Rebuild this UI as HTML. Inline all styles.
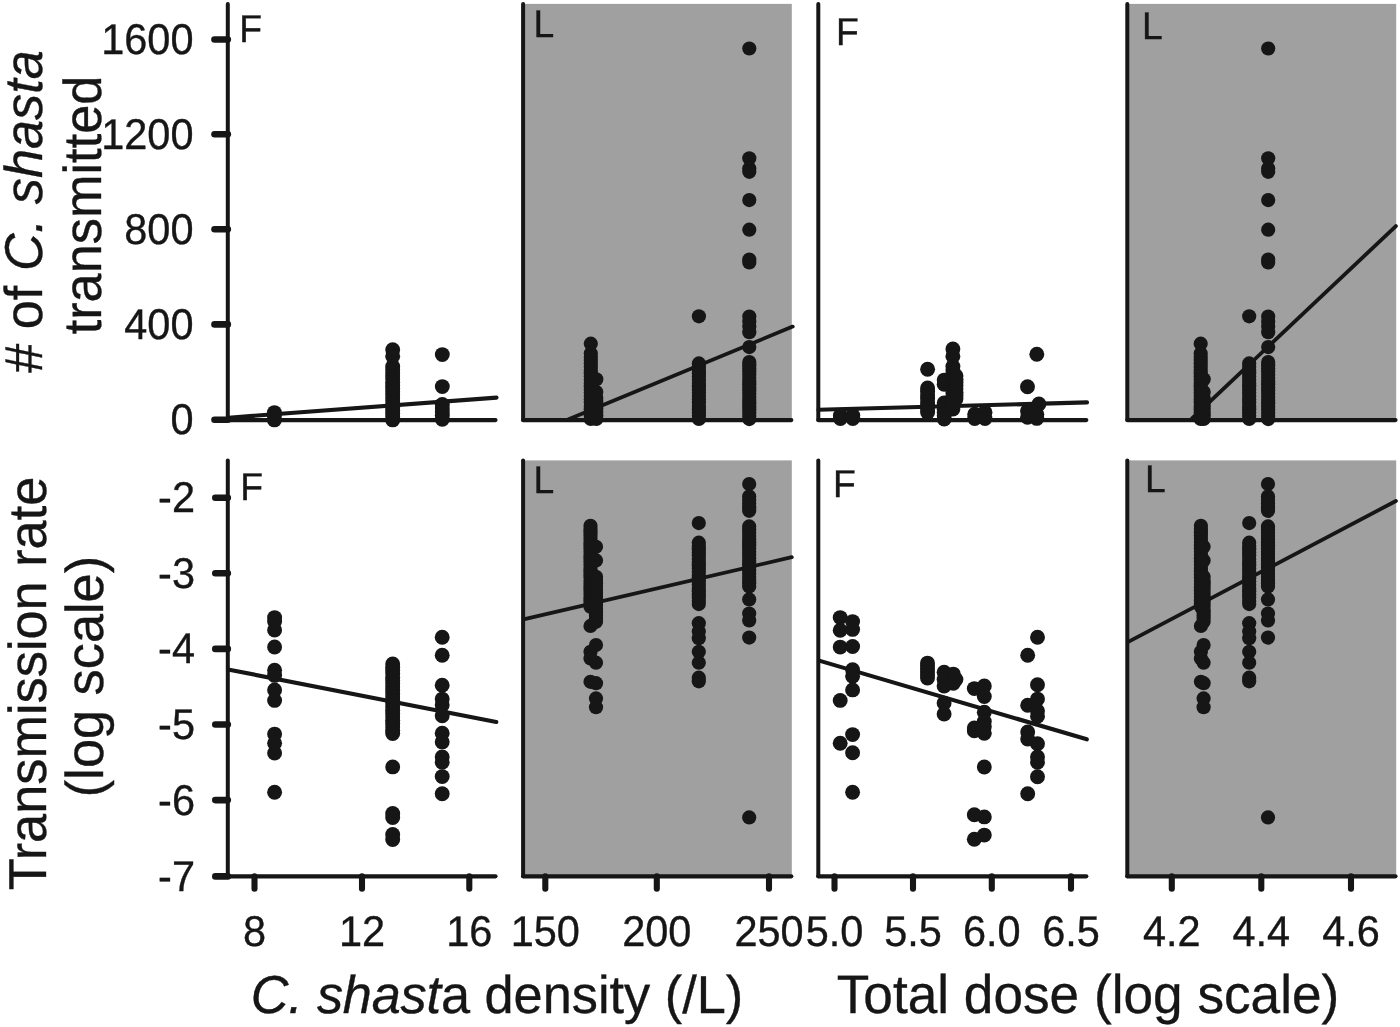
<!DOCTYPE html>
<html><head><meta charset="utf-8"><title>Figure</title>
<style>html,body{margin:0;padding:0;background:#fff;}body{width:1400px;height:1027px;overflow:hidden;}svg{display:block;}text{font-family:"Liberation Sans",sans-serif;fill:#161616;stroke:#161616;stroke-width:0.35px;text-rendering:geometricPrecision;}</style>
</head><body>
<svg width="1400" height="1027" viewBox="0 0 1400 1027">
<rect x="0" y="0" width="1400" height="1027" fill="#ffffff"/>
<rect x="523.1" y="3.9" width="268.7" height="416.2" fill="#a0a0a0"/>
<rect x="523.1" y="460.4" width="268.7" height="415.9" fill="#a0a0a0"/>
<rect x="1127.3" y="3.9" width="268.9" height="416.2" fill="#a0a0a0"/>
<rect x="1127.3" y="460.4" width="268.9" height="415.9" fill="#a0a0a0"/>
<g stroke="#161616" stroke-linecap="round" fill="none">
<line x1="228.6" y1="417.7" x2="496.5" y2="397.6" stroke-width="4.1"/>
<line x1="568.0" y1="419.5" x2="792.7" y2="326.6" stroke-width="3.8"/>
<line x1="818.5" y1="409.7" x2="1087.0" y2="402.4" stroke-width="4.1"/>
<line x1="1192.0" y1="418.5" x2="1395.9" y2="226.1" stroke-width="3.8"/>
<line x1="229.2" y1="669.7" x2="496.3" y2="722.0" stroke-width="4.1"/>
<line x1="524.5" y1="619.1" x2="791.8" y2="557.2" stroke-width="3.8"/>
<line x1="820.0" y1="660.9" x2="1086.8" y2="739.3" stroke-width="4.1"/>
<line x1="1129.2" y1="641.4" x2="1395.9" y2="501.0" stroke-width="3.8"/>
</g>
<g fill="#161616">
<circle cx="274.4" cy="412.6" r="7.45"/>
<circle cx="274.4" cy="416.0" r="7.45"/>
<circle cx="274.4" cy="419.9" r="7.45"/>
<circle cx="392.7" cy="349.8" r="7.45"/>
<circle cx="392.7" cy="356.3" r="7.45"/>
<circle cx="392.7" cy="366.6" r="7.45"/>
<circle cx="392.7" cy="369.7" r="7.45"/>
<circle cx="392.7" cy="372.9" r="7.45"/>
<circle cx="392.7" cy="376.0" r="7.45"/>
<circle cx="392.7" cy="379.1" r="7.45"/>
<circle cx="392.7" cy="382.3" r="7.45"/>
<circle cx="392.7" cy="385.4" r="7.45"/>
<circle cx="392.7" cy="388.5" r="7.45"/>
<circle cx="392.7" cy="391.7" r="7.45"/>
<circle cx="392.7" cy="394.8" r="7.45"/>
<circle cx="392.7" cy="398.0" r="7.45"/>
<circle cx="392.7" cy="401.1" r="7.45"/>
<circle cx="392.7" cy="404.2" r="7.45"/>
<circle cx="392.7" cy="407.4" r="7.45"/>
<circle cx="392.7" cy="410.5" r="7.45"/>
<circle cx="392.7" cy="413.6" r="7.45"/>
<circle cx="392.7" cy="416.8" r="7.45"/>
<circle cx="392.7" cy="419.9" r="7.45"/>
<circle cx="442.3" cy="354.6" r="7.45"/>
<circle cx="442.3" cy="386.6" r="7.45"/>
<circle cx="442.3" cy="404.4" r="7.45"/>
<circle cx="442.3" cy="408.1" r="7.45"/>
<circle cx="442.3" cy="411.8" r="7.45"/>
<circle cx="442.3" cy="415.5" r="7.45"/>
<circle cx="442.3" cy="419.2" r="7.45"/>
<circle cx="590.8" cy="343.7" r="7.10"/>
<circle cx="590.8" cy="353.6" r="7.10"/>
<circle cx="590.8" cy="356.9" r="7.10"/>
<circle cx="590.8" cy="360.1" r="7.10"/>
<circle cx="590.8" cy="363.4" r="7.10"/>
<circle cx="590.8" cy="366.7" r="7.10"/>
<circle cx="590.8" cy="370.0" r="7.10"/>
<circle cx="590.8" cy="373.2" r="7.10"/>
<circle cx="590.8" cy="376.5" r="7.10"/>
<circle cx="590.8" cy="379.8" r="7.10"/>
<circle cx="590.8" cy="383.0" r="7.10"/>
<circle cx="590.8" cy="386.3" r="7.10"/>
<circle cx="590.8" cy="389.6" r="7.10"/>
<circle cx="590.8" cy="392.8" r="7.10"/>
<circle cx="590.8" cy="396.1" r="7.10"/>
<circle cx="590.8" cy="399.4" r="7.10"/>
<circle cx="590.8" cy="402.6" r="7.10"/>
<circle cx="590.8" cy="405.9" r="7.10"/>
<circle cx="590.8" cy="409.2" r="7.10"/>
<circle cx="590.8" cy="412.5" r="7.10"/>
<circle cx="590.8" cy="415.7" r="7.10"/>
<circle cx="590.8" cy="419.0" r="7.10"/>
<circle cx="596.3" cy="379.3" r="7.10"/>
<circle cx="596.3" cy="392.0" r="7.10"/>
<circle cx="596.3" cy="398.0" r="7.10"/>
<circle cx="596.3" cy="401.5" r="7.10"/>
<circle cx="596.3" cy="405.0" r="7.10"/>
<circle cx="596.3" cy="408.5" r="7.10"/>
<circle cx="596.3" cy="412.0" r="7.10"/>
<circle cx="596.3" cy="415.5" r="7.10"/>
<circle cx="596.3" cy="419.0" r="7.10"/>
<circle cx="698.9" cy="316.3" r="7.10"/>
<circle cx="698.9" cy="363.4" r="7.10"/>
<circle cx="698.9" cy="366.7" r="7.10"/>
<circle cx="698.9" cy="369.9" r="7.10"/>
<circle cx="698.9" cy="373.2" r="7.10"/>
<circle cx="698.9" cy="376.5" r="7.10"/>
<circle cx="698.9" cy="379.8" r="7.10"/>
<circle cx="698.9" cy="383.0" r="7.10"/>
<circle cx="698.9" cy="386.3" r="7.10"/>
<circle cx="698.9" cy="389.6" r="7.10"/>
<circle cx="698.9" cy="392.8" r="7.10"/>
<circle cx="698.9" cy="396.1" r="7.10"/>
<circle cx="698.9" cy="399.4" r="7.10"/>
<circle cx="698.9" cy="402.6" r="7.10"/>
<circle cx="698.9" cy="405.9" r="7.10"/>
<circle cx="698.9" cy="409.2" r="7.10"/>
<circle cx="698.9" cy="412.5" r="7.10"/>
<circle cx="698.9" cy="415.7" r="7.10"/>
<circle cx="698.9" cy="419.0" r="7.10"/>
<circle cx="749.3" cy="48.5" r="7.10"/>
<circle cx="749.3" cy="158.3" r="7.10"/>
<circle cx="749.3" cy="168.6" r="7.10"/>
<circle cx="749.3" cy="171.8" r="7.10"/>
<circle cx="749.3" cy="200.1" r="7.10"/>
<circle cx="749.3" cy="229.7" r="7.10"/>
<circle cx="749.3" cy="259.6" r="7.10"/>
<circle cx="749.3" cy="262.5" r="7.10"/>
<circle cx="749.3" cy="316.6" r="7.10"/>
<circle cx="749.3" cy="321.5" r="7.10"/>
<circle cx="749.3" cy="326.5" r="7.10"/>
<circle cx="749.3" cy="332.2" r="7.10"/>
<circle cx="749.3" cy="347.1" r="7.10"/>
<circle cx="749.3" cy="362.1" r="7.10"/>
<circle cx="749.3" cy="365.3" r="7.10"/>
<circle cx="749.3" cy="368.4" r="7.10"/>
<circle cx="749.3" cy="371.6" r="7.10"/>
<circle cx="749.3" cy="374.8" r="7.10"/>
<circle cx="749.3" cy="377.9" r="7.10"/>
<circle cx="749.3" cy="381.1" r="7.10"/>
<circle cx="749.3" cy="384.3" r="7.10"/>
<circle cx="749.3" cy="387.4" r="7.10"/>
<circle cx="749.3" cy="390.6" r="7.10"/>
<circle cx="749.3" cy="393.8" r="7.10"/>
<circle cx="749.3" cy="396.9" r="7.10"/>
<circle cx="749.3" cy="400.1" r="7.10"/>
<circle cx="749.3" cy="403.3" r="7.10"/>
<circle cx="749.3" cy="406.4" r="7.10"/>
<circle cx="749.3" cy="409.6" r="7.10"/>
<circle cx="749.3" cy="412.8" r="7.10"/>
<circle cx="749.3" cy="415.9" r="7.10"/>
<circle cx="749.3" cy="419.1" r="7.10"/>
<circle cx="840.4" cy="415.5" r="7.45"/>
<circle cx="840.4" cy="418.5" r="7.45"/>
<circle cx="852.8" cy="415.5" r="7.45"/>
<circle cx="852.8" cy="418.5" r="7.45"/>
<circle cx="927.6" cy="369.3" r="7.45"/>
<circle cx="927.6" cy="387.9" r="7.45"/>
<circle cx="927.6" cy="391.4" r="7.45"/>
<circle cx="927.6" cy="394.9" r="7.45"/>
<circle cx="927.6" cy="398.4" r="7.45"/>
<circle cx="927.6" cy="402.0" r="7.45"/>
<circle cx="927.6" cy="405.5" r="7.45"/>
<circle cx="927.6" cy="409.0" r="7.45"/>
<circle cx="927.6" cy="412.5" r="7.45"/>
<circle cx="944.2" cy="380.1" r="7.45"/>
<circle cx="944.2" cy="384.2" r="7.45"/>
<circle cx="944.2" cy="402.9" r="7.45"/>
<circle cx="944.2" cy="406.1" r="7.45"/>
<circle cx="944.2" cy="409.3" r="7.45"/>
<circle cx="944.2" cy="412.6" r="7.45"/>
<circle cx="944.2" cy="415.8" r="7.45"/>
<circle cx="944.2" cy="419.0" r="7.45"/>
<circle cx="952.9" cy="349.0" r="7.45"/>
<circle cx="952.9" cy="356.2" r="7.45"/>
<circle cx="952.9" cy="366.6" r="7.45"/>
<circle cx="952.9" cy="370.0" r="7.45"/>
<circle cx="952.9" cy="373.3" r="7.45"/>
<circle cx="952.9" cy="376.5" r="7.45"/>
<circle cx="952.9" cy="379.8" r="7.45"/>
<circle cx="952.9" cy="383.0" r="7.45"/>
<circle cx="952.9" cy="386.3" r="7.45"/>
<circle cx="952.9" cy="389.6" r="7.45"/>
<circle cx="952.9" cy="392.8" r="7.45"/>
<circle cx="952.9" cy="396.1" r="7.45"/>
<circle cx="952.9" cy="399.3" r="7.45"/>
<circle cx="952.9" cy="402.6" r="7.45"/>
<circle cx="952.9" cy="405.8" r="7.45"/>
<circle cx="952.9" cy="409.1" r="7.45"/>
<circle cx="956.0" cy="375.9" r="7.45"/>
<circle cx="956.0" cy="379.2" r="7.45"/>
<circle cx="956.0" cy="382.4" r="7.45"/>
<circle cx="956.0" cy="385.7" r="7.45"/>
<circle cx="956.0" cy="388.9" r="7.45"/>
<circle cx="956.0" cy="392.2" r="7.45"/>
<circle cx="956.0" cy="395.4" r="7.45"/>
<circle cx="956.0" cy="398.7" r="7.45"/>
<circle cx="974.7" cy="414.2" r="7.45"/>
<circle cx="974.7" cy="418.5" r="7.45"/>
<circle cx="985.0" cy="412.2" r="7.45"/>
<circle cx="985.0" cy="418.5" r="7.45"/>
<circle cx="1027.5" cy="386.7" r="7.45"/>
<circle cx="1027.5" cy="411.1" r="7.45"/>
<circle cx="1027.5" cy="417.3" r="7.45"/>
<circle cx="1036.8" cy="354.2" r="7.45"/>
<circle cx="1036.8" cy="414.2" r="7.45"/>
<circle cx="1036.8" cy="418.4" r="7.45"/>
<circle cx="1038.9" cy="403.9" r="7.45"/>
<circle cx="1200.7" cy="343.7" r="7.10"/>
<circle cx="1200.7" cy="353.6" r="7.10"/>
<circle cx="1200.7" cy="356.9" r="7.10"/>
<circle cx="1200.7" cy="360.1" r="7.10"/>
<circle cx="1200.7" cy="363.4" r="7.10"/>
<circle cx="1200.7" cy="366.7" r="7.10"/>
<circle cx="1200.7" cy="370.0" r="7.10"/>
<circle cx="1200.7" cy="373.2" r="7.10"/>
<circle cx="1200.7" cy="376.5" r="7.10"/>
<circle cx="1200.7" cy="379.8" r="7.10"/>
<circle cx="1200.7" cy="383.0" r="7.10"/>
<circle cx="1200.7" cy="386.3" r="7.10"/>
<circle cx="1200.7" cy="389.6" r="7.10"/>
<circle cx="1200.7" cy="392.8" r="7.10"/>
<circle cx="1200.7" cy="396.1" r="7.10"/>
<circle cx="1200.7" cy="399.4" r="7.10"/>
<circle cx="1200.7" cy="402.6" r="7.10"/>
<circle cx="1200.7" cy="405.9" r="7.10"/>
<circle cx="1200.7" cy="409.2" r="7.10"/>
<circle cx="1200.7" cy="412.5" r="7.10"/>
<circle cx="1200.7" cy="415.7" r="7.10"/>
<circle cx="1200.7" cy="419.0" r="7.10"/>
<circle cx="1203.7" cy="379.3" r="7.10"/>
<circle cx="1203.7" cy="392.0" r="7.10"/>
<circle cx="1203.7" cy="398.0" r="7.10"/>
<circle cx="1203.7" cy="401.5" r="7.10"/>
<circle cx="1203.7" cy="405.0" r="7.10"/>
<circle cx="1203.7" cy="408.5" r="7.10"/>
<circle cx="1203.7" cy="412.0" r="7.10"/>
<circle cx="1203.7" cy="415.5" r="7.10"/>
<circle cx="1203.7" cy="419.0" r="7.10"/>
<circle cx="1249.2" cy="316.3" r="7.10"/>
<circle cx="1249.2" cy="363.4" r="7.10"/>
<circle cx="1249.2" cy="366.7" r="7.10"/>
<circle cx="1249.2" cy="369.9" r="7.10"/>
<circle cx="1249.2" cy="373.2" r="7.10"/>
<circle cx="1249.2" cy="376.5" r="7.10"/>
<circle cx="1249.2" cy="379.8" r="7.10"/>
<circle cx="1249.2" cy="383.0" r="7.10"/>
<circle cx="1249.2" cy="386.3" r="7.10"/>
<circle cx="1249.2" cy="389.6" r="7.10"/>
<circle cx="1249.2" cy="392.8" r="7.10"/>
<circle cx="1249.2" cy="396.1" r="7.10"/>
<circle cx="1249.2" cy="399.4" r="7.10"/>
<circle cx="1249.2" cy="402.6" r="7.10"/>
<circle cx="1249.2" cy="405.9" r="7.10"/>
<circle cx="1249.2" cy="409.2" r="7.10"/>
<circle cx="1249.2" cy="412.5" r="7.10"/>
<circle cx="1249.2" cy="415.7" r="7.10"/>
<circle cx="1249.2" cy="419.0" r="7.10"/>
<circle cx="1268.2" cy="48.5" r="7.10"/>
<circle cx="1268.2" cy="158.3" r="7.10"/>
<circle cx="1268.2" cy="168.6" r="7.10"/>
<circle cx="1268.2" cy="171.8" r="7.10"/>
<circle cx="1268.2" cy="200.1" r="7.10"/>
<circle cx="1268.2" cy="229.7" r="7.10"/>
<circle cx="1268.2" cy="259.6" r="7.10"/>
<circle cx="1268.2" cy="262.5" r="7.10"/>
<circle cx="1268.2" cy="316.6" r="7.10"/>
<circle cx="1268.2" cy="321.5" r="7.10"/>
<circle cx="1268.2" cy="326.5" r="7.10"/>
<circle cx="1268.2" cy="332.2" r="7.10"/>
<circle cx="1268.2" cy="347.1" r="7.10"/>
<circle cx="1268.2" cy="362.1" r="7.10"/>
<circle cx="1268.2" cy="365.3" r="7.10"/>
<circle cx="1268.2" cy="368.4" r="7.10"/>
<circle cx="1268.2" cy="371.6" r="7.10"/>
<circle cx="1268.2" cy="374.8" r="7.10"/>
<circle cx="1268.2" cy="377.9" r="7.10"/>
<circle cx="1268.2" cy="381.1" r="7.10"/>
<circle cx="1268.2" cy="384.3" r="7.10"/>
<circle cx="1268.2" cy="387.4" r="7.10"/>
<circle cx="1268.2" cy="390.6" r="7.10"/>
<circle cx="1268.2" cy="393.8" r="7.10"/>
<circle cx="1268.2" cy="396.9" r="7.10"/>
<circle cx="1268.2" cy="400.1" r="7.10"/>
<circle cx="1268.2" cy="403.3" r="7.10"/>
<circle cx="1268.2" cy="406.4" r="7.10"/>
<circle cx="1268.2" cy="409.6" r="7.10"/>
<circle cx="1268.2" cy="412.8" r="7.10"/>
<circle cx="1268.2" cy="415.9" r="7.10"/>
<circle cx="1268.2" cy="419.1" r="7.10"/>
<circle cx="274.6" cy="617.6" r="7.45"/>
<circle cx="274.6" cy="621.5" r="7.45"/>
<circle cx="274.6" cy="630.0" r="7.45"/>
<circle cx="274.6" cy="647.0" r="7.45"/>
<circle cx="274.6" cy="670.2" r="7.45"/>
<circle cx="274.6" cy="675.4" r="7.45"/>
<circle cx="274.6" cy="689.9" r="7.45"/>
<circle cx="274.6" cy="700.4" r="7.45"/>
<circle cx="274.6" cy="734.1" r="7.45"/>
<circle cx="274.6" cy="743.3" r="7.45"/>
<circle cx="274.6" cy="753.0" r="7.45"/>
<circle cx="274.6" cy="792.2" r="7.45"/>
<circle cx="392.7" cy="663.9" r="7.45"/>
<circle cx="392.7" cy="667.2" r="7.45"/>
<circle cx="392.7" cy="670.5" r="7.45"/>
<circle cx="392.7" cy="673.8" r="7.45"/>
<circle cx="392.7" cy="677.2" r="7.45"/>
<circle cx="392.7" cy="680.5" r="7.45"/>
<circle cx="392.7" cy="683.8" r="7.45"/>
<circle cx="392.7" cy="687.1" r="7.45"/>
<circle cx="392.7" cy="690.4" r="7.45"/>
<circle cx="392.7" cy="693.7" r="7.45"/>
<circle cx="392.7" cy="697.0" r="7.45"/>
<circle cx="392.7" cy="700.4" r="7.45"/>
<circle cx="392.7" cy="703.7" r="7.45"/>
<circle cx="392.7" cy="707.0" r="7.45"/>
<circle cx="392.7" cy="710.3" r="7.45"/>
<circle cx="392.7" cy="713.6" r="7.45"/>
<circle cx="392.7" cy="716.9" r="7.45"/>
<circle cx="392.7" cy="720.2" r="7.45"/>
<circle cx="392.7" cy="723.6" r="7.45"/>
<circle cx="392.7" cy="726.9" r="7.45"/>
<circle cx="392.7" cy="730.2" r="7.45"/>
<circle cx="392.7" cy="733.5" r="7.45"/>
<circle cx="392.7" cy="766.9" r="7.45"/>
<circle cx="392.7" cy="813.5" r="7.45"/>
<circle cx="392.7" cy="817.5" r="7.45"/>
<circle cx="392.7" cy="834.5" r="7.45"/>
<circle cx="392.7" cy="839.5" r="7.45"/>
<circle cx="442.2" cy="637.3" r="7.45"/>
<circle cx="442.2" cy="655.2" r="7.45"/>
<circle cx="442.2" cy="685.2" r="7.45"/>
<circle cx="442.2" cy="699.1" r="7.45"/>
<circle cx="442.2" cy="705.1" r="7.45"/>
<circle cx="442.2" cy="715.7" r="7.45"/>
<circle cx="442.2" cy="733.3" r="7.45"/>
<circle cx="442.2" cy="741.9" r="7.45"/>
<circle cx="442.2" cy="756.9" r="7.45"/>
<circle cx="442.2" cy="762.2" r="7.45"/>
<circle cx="442.2" cy="776.6" r="7.45"/>
<circle cx="442.2" cy="793.7" r="7.45"/>
<circle cx="590.5" cy="525.8" r="7.10"/>
<circle cx="590.5" cy="529.0" r="7.10"/>
<circle cx="590.5" cy="532.3" r="7.10"/>
<circle cx="590.5" cy="535.5" r="7.10"/>
<circle cx="590.5" cy="538.8" r="7.10"/>
<circle cx="590.5" cy="542.0" r="7.10"/>
<circle cx="590.5" cy="545.2" r="7.10"/>
<circle cx="590.5" cy="548.5" r="7.10"/>
<circle cx="590.5" cy="551.7" r="7.10"/>
<circle cx="590.5" cy="555.0" r="7.10"/>
<circle cx="590.5" cy="558.2" r="7.10"/>
<circle cx="590.5" cy="561.4" r="7.10"/>
<circle cx="590.5" cy="564.7" r="7.10"/>
<circle cx="590.5" cy="567.9" r="7.10"/>
<circle cx="590.5" cy="571.2" r="7.10"/>
<circle cx="590.5" cy="574.4" r="7.10"/>
<circle cx="590.5" cy="577.6" r="7.10"/>
<circle cx="590.5" cy="580.9" r="7.10"/>
<circle cx="590.5" cy="584.1" r="7.10"/>
<circle cx="590.5" cy="587.4" r="7.10"/>
<circle cx="590.5" cy="590.6" r="7.10"/>
<circle cx="590.5" cy="593.8" r="7.10"/>
<circle cx="590.5" cy="597.1" r="7.10"/>
<circle cx="590.5" cy="600.3" r="7.10"/>
<circle cx="590.5" cy="603.6" r="7.10"/>
<circle cx="590.5" cy="606.8" r="7.10"/>
<circle cx="590.5" cy="625.9" r="7.10"/>
<circle cx="590.5" cy="651.8" r="7.10"/>
<circle cx="590.5" cy="658.6" r="7.10"/>
<circle cx="590.5" cy="681.8" r="7.10"/>
<circle cx="596.0" cy="546.8" r="7.10"/>
<circle cx="596.0" cy="560.4" r="7.10"/>
<circle cx="596.0" cy="576.8" r="7.10"/>
<circle cx="596.0" cy="580.0" r="7.10"/>
<circle cx="596.0" cy="583.2" r="7.10"/>
<circle cx="596.0" cy="586.4" r="7.10"/>
<circle cx="596.0" cy="589.7" r="7.10"/>
<circle cx="596.0" cy="592.9" r="7.10"/>
<circle cx="596.0" cy="596.1" r="7.10"/>
<circle cx="596.0" cy="599.3" r="7.10"/>
<circle cx="596.0" cy="602.5" r="7.10"/>
<circle cx="596.0" cy="605.7" r="7.10"/>
<circle cx="596.0" cy="608.9" r="7.10"/>
<circle cx="596.0" cy="612.2" r="7.10"/>
<circle cx="596.0" cy="615.4" r="7.10"/>
<circle cx="596.0" cy="618.6" r="7.10"/>
<circle cx="596.0" cy="621.8" r="7.10"/>
<circle cx="596.0" cy="645.0" r="7.10"/>
<circle cx="596.0" cy="662.7" r="7.10"/>
<circle cx="596.0" cy="683.2" r="7.10"/>
<circle cx="596.0" cy="698.4" r="7.10"/>
<circle cx="596.0" cy="707.2" r="7.10"/>
<circle cx="698.8" cy="523.1" r="7.10"/>
<circle cx="698.8" cy="542.7" r="7.10"/>
<circle cx="698.8" cy="545.9" r="7.10"/>
<circle cx="698.8" cy="549.2" r="7.10"/>
<circle cx="698.8" cy="552.4" r="7.10"/>
<circle cx="698.8" cy="555.6" r="7.10"/>
<circle cx="698.8" cy="558.9" r="7.10"/>
<circle cx="698.8" cy="562.1" r="7.10"/>
<circle cx="698.8" cy="565.3" r="7.10"/>
<circle cx="698.8" cy="568.6" r="7.10"/>
<circle cx="698.8" cy="571.8" r="7.10"/>
<circle cx="698.8" cy="575.0" r="7.10"/>
<circle cx="698.8" cy="578.2" r="7.10"/>
<circle cx="698.8" cy="581.5" r="7.10"/>
<circle cx="698.8" cy="584.7" r="7.10"/>
<circle cx="698.8" cy="587.9" r="7.10"/>
<circle cx="698.8" cy="591.2" r="7.10"/>
<circle cx="698.8" cy="594.4" r="7.10"/>
<circle cx="698.8" cy="597.6" r="7.10"/>
<circle cx="698.8" cy="600.9" r="7.10"/>
<circle cx="698.8" cy="604.1" r="7.10"/>
<circle cx="698.8" cy="623.2" r="7.10"/>
<circle cx="698.8" cy="631.4" r="7.10"/>
<circle cx="698.8" cy="638.2" r="7.10"/>
<circle cx="698.8" cy="651.8" r="7.10"/>
<circle cx="698.8" cy="662.7" r="7.10"/>
<circle cx="698.8" cy="677.7" r="7.10"/>
<circle cx="698.8" cy="681.3" r="7.10"/>
<circle cx="749.2" cy="484.1" r="7.10"/>
<circle cx="749.2" cy="496.4" r="7.10"/>
<circle cx="749.2" cy="500.0" r="7.10"/>
<circle cx="749.2" cy="503.6" r="7.10"/>
<circle cx="749.2" cy="507.2" r="7.10"/>
<circle cx="749.2" cy="510.8" r="7.10"/>
<circle cx="749.2" cy="526.4" r="7.10"/>
<circle cx="749.2" cy="529.6" r="7.10"/>
<circle cx="749.2" cy="532.7" r="7.10"/>
<circle cx="749.2" cy="535.9" r="7.10"/>
<circle cx="749.2" cy="539.0" r="7.10"/>
<circle cx="749.2" cy="542.2" r="7.10"/>
<circle cx="749.2" cy="545.3" r="7.10"/>
<circle cx="749.2" cy="548.5" r="7.10"/>
<circle cx="749.2" cy="551.7" r="7.10"/>
<circle cx="749.2" cy="554.8" r="7.10"/>
<circle cx="749.2" cy="558.0" r="7.10"/>
<circle cx="749.2" cy="561.1" r="7.10"/>
<circle cx="749.2" cy="564.3" r="7.10"/>
<circle cx="749.2" cy="567.5" r="7.10"/>
<circle cx="749.2" cy="570.6" r="7.10"/>
<circle cx="749.2" cy="573.8" r="7.10"/>
<circle cx="749.2" cy="576.9" r="7.10"/>
<circle cx="749.2" cy="580.1" r="7.10"/>
<circle cx="749.2" cy="583.2" r="7.10"/>
<circle cx="749.2" cy="586.4" r="7.10"/>
<circle cx="749.2" cy="599.4" r="7.10"/>
<circle cx="749.2" cy="613.6" r="7.10"/>
<circle cx="749.2" cy="620.4" r="7.10"/>
<circle cx="749.2" cy="637.6" r="7.10"/>
<circle cx="749.2" cy="817.4" r="7.10"/>
<circle cx="840.2" cy="617.6" r="7.45"/>
<circle cx="840.2" cy="630.2" r="7.45"/>
<circle cx="840.2" cy="647.1" r="7.45"/>
<circle cx="840.2" cy="700.4" r="7.45"/>
<circle cx="840.2" cy="743.3" r="7.45"/>
<circle cx="852.6" cy="621.6" r="7.45"/>
<circle cx="852.6" cy="629.4" r="7.45"/>
<circle cx="852.6" cy="646.5" r="7.45"/>
<circle cx="852.6" cy="669.7" r="7.45"/>
<circle cx="852.6" cy="676.2" r="7.45"/>
<circle cx="852.6" cy="689.9" r="7.45"/>
<circle cx="852.6" cy="734.6" r="7.45"/>
<circle cx="852.6" cy="752.8" r="7.45"/>
<circle cx="852.6" cy="792.2" r="7.45"/>
<circle cx="927.5" cy="663.1" r="7.45"/>
<circle cx="927.5" cy="666.1" r="7.45"/>
<circle cx="927.5" cy="669.1" r="7.45"/>
<circle cx="927.5" cy="672.1" r="7.45"/>
<circle cx="927.5" cy="675.1" r="7.45"/>
<circle cx="927.5" cy="678.1" r="7.45"/>
<circle cx="944.1" cy="672.3" r="7.45"/>
<circle cx="944.1" cy="679.4" r="7.45"/>
<circle cx="944.1" cy="686.0" r="7.45"/>
<circle cx="944.1" cy="703.1" r="7.45"/>
<circle cx="944.1" cy="714.1" r="7.45"/>
<circle cx="953.3" cy="674.1" r="7.45"/>
<circle cx="953.3" cy="680.7" r="7.45"/>
<circle cx="953.3" cy="683.3" r="7.45"/>
<circle cx="955.9" cy="679.4" r="7.45"/>
<circle cx="974.3" cy="688.6" r="7.45"/>
<circle cx="974.3" cy="728.0" r="7.45"/>
<circle cx="974.3" cy="730.7" r="7.45"/>
<circle cx="974.3" cy="814.8" r="7.45"/>
<circle cx="974.3" cy="839.3" r="7.45"/>
<circle cx="984.3" cy="686.0" r="7.45"/>
<circle cx="984.3" cy="696.5" r="7.45"/>
<circle cx="984.3" cy="712.3" r="7.45"/>
<circle cx="984.3" cy="721.5" r="7.45"/>
<circle cx="984.3" cy="726.7" r="7.45"/>
<circle cx="984.3" cy="733.3" r="7.45"/>
<circle cx="984.3" cy="767.0" r="7.45"/>
<circle cx="984.3" cy="816.9" r="7.45"/>
<circle cx="984.3" cy="835.1" r="7.45"/>
<circle cx="1027.7" cy="655.2" r="7.45"/>
<circle cx="1027.7" cy="705.2" r="7.45"/>
<circle cx="1027.7" cy="732.0" r="7.45"/>
<circle cx="1027.7" cy="739.1" r="7.45"/>
<circle cx="1027.7" cy="793.8" r="7.45"/>
<circle cx="1037.5" cy="637.3" r="7.45"/>
<circle cx="1037.5" cy="684.7" r="7.45"/>
<circle cx="1037.5" cy="699.1" r="7.45"/>
<circle cx="1037.5" cy="711.0" r="7.45"/>
<circle cx="1037.5" cy="716.2" r="7.45"/>
<circle cx="1037.5" cy="743.8" r="7.45"/>
<circle cx="1037.5" cy="757.0" r="7.45"/>
<circle cx="1037.5" cy="762.2" r="7.45"/>
<circle cx="1037.5" cy="776.7" r="7.45"/>
<circle cx="1200.9" cy="525.8" r="7.10"/>
<circle cx="1200.9" cy="529.0" r="7.10"/>
<circle cx="1200.9" cy="532.3" r="7.10"/>
<circle cx="1200.9" cy="535.5" r="7.10"/>
<circle cx="1200.9" cy="538.8" r="7.10"/>
<circle cx="1200.9" cy="542.0" r="7.10"/>
<circle cx="1200.9" cy="545.2" r="7.10"/>
<circle cx="1200.9" cy="548.5" r="7.10"/>
<circle cx="1200.9" cy="551.7" r="7.10"/>
<circle cx="1200.9" cy="555.0" r="7.10"/>
<circle cx="1200.9" cy="558.2" r="7.10"/>
<circle cx="1200.9" cy="561.4" r="7.10"/>
<circle cx="1200.9" cy="564.7" r="7.10"/>
<circle cx="1200.9" cy="567.9" r="7.10"/>
<circle cx="1200.9" cy="571.2" r="7.10"/>
<circle cx="1200.9" cy="574.4" r="7.10"/>
<circle cx="1200.9" cy="577.6" r="7.10"/>
<circle cx="1200.9" cy="580.9" r="7.10"/>
<circle cx="1200.9" cy="584.1" r="7.10"/>
<circle cx="1200.9" cy="587.4" r="7.10"/>
<circle cx="1200.9" cy="590.6" r="7.10"/>
<circle cx="1200.9" cy="593.8" r="7.10"/>
<circle cx="1200.9" cy="597.1" r="7.10"/>
<circle cx="1200.9" cy="600.3" r="7.10"/>
<circle cx="1200.9" cy="603.6" r="7.10"/>
<circle cx="1200.9" cy="606.8" r="7.10"/>
<circle cx="1200.9" cy="625.9" r="7.10"/>
<circle cx="1200.9" cy="651.8" r="7.10"/>
<circle cx="1200.9" cy="658.6" r="7.10"/>
<circle cx="1200.9" cy="681.8" r="7.10"/>
<circle cx="1203.6" cy="546.8" r="7.10"/>
<circle cx="1203.6" cy="560.4" r="7.10"/>
<circle cx="1203.6" cy="576.8" r="7.10"/>
<circle cx="1203.6" cy="580.0" r="7.10"/>
<circle cx="1203.6" cy="583.2" r="7.10"/>
<circle cx="1203.6" cy="586.4" r="7.10"/>
<circle cx="1203.6" cy="589.7" r="7.10"/>
<circle cx="1203.6" cy="592.9" r="7.10"/>
<circle cx="1203.6" cy="596.1" r="7.10"/>
<circle cx="1203.6" cy="599.3" r="7.10"/>
<circle cx="1203.6" cy="602.5" r="7.10"/>
<circle cx="1203.6" cy="605.7" r="7.10"/>
<circle cx="1203.6" cy="608.9" r="7.10"/>
<circle cx="1203.6" cy="612.2" r="7.10"/>
<circle cx="1203.6" cy="615.4" r="7.10"/>
<circle cx="1203.6" cy="618.6" r="7.10"/>
<circle cx="1203.6" cy="621.8" r="7.10"/>
<circle cx="1203.6" cy="645.0" r="7.10"/>
<circle cx="1203.6" cy="662.7" r="7.10"/>
<circle cx="1203.6" cy="683.2" r="7.10"/>
<circle cx="1203.6" cy="698.4" r="7.10"/>
<circle cx="1203.6" cy="707.2" r="7.10"/>
<circle cx="1249.2" cy="523.1" r="7.10"/>
<circle cx="1249.2" cy="542.7" r="7.10"/>
<circle cx="1249.2" cy="545.9" r="7.10"/>
<circle cx="1249.2" cy="549.2" r="7.10"/>
<circle cx="1249.2" cy="552.4" r="7.10"/>
<circle cx="1249.2" cy="555.6" r="7.10"/>
<circle cx="1249.2" cy="558.9" r="7.10"/>
<circle cx="1249.2" cy="562.1" r="7.10"/>
<circle cx="1249.2" cy="565.3" r="7.10"/>
<circle cx="1249.2" cy="568.6" r="7.10"/>
<circle cx="1249.2" cy="571.8" r="7.10"/>
<circle cx="1249.2" cy="575.0" r="7.10"/>
<circle cx="1249.2" cy="578.2" r="7.10"/>
<circle cx="1249.2" cy="581.5" r="7.10"/>
<circle cx="1249.2" cy="584.7" r="7.10"/>
<circle cx="1249.2" cy="587.9" r="7.10"/>
<circle cx="1249.2" cy="591.2" r="7.10"/>
<circle cx="1249.2" cy="594.4" r="7.10"/>
<circle cx="1249.2" cy="597.6" r="7.10"/>
<circle cx="1249.2" cy="600.9" r="7.10"/>
<circle cx="1249.2" cy="604.1" r="7.10"/>
<circle cx="1249.2" cy="623.2" r="7.10"/>
<circle cx="1249.2" cy="631.4" r="7.10"/>
<circle cx="1249.2" cy="638.2" r="7.10"/>
<circle cx="1249.2" cy="651.8" r="7.10"/>
<circle cx="1249.2" cy="662.7" r="7.10"/>
<circle cx="1249.2" cy="677.7" r="7.10"/>
<circle cx="1249.2" cy="681.3" r="7.10"/>
<circle cx="1268.0" cy="484.1" r="7.10"/>
<circle cx="1268.0" cy="496.4" r="7.10"/>
<circle cx="1268.0" cy="500.0" r="7.10"/>
<circle cx="1268.0" cy="503.6" r="7.10"/>
<circle cx="1268.0" cy="507.2" r="7.10"/>
<circle cx="1268.0" cy="510.8" r="7.10"/>
<circle cx="1268.0" cy="526.4" r="7.10"/>
<circle cx="1268.0" cy="529.6" r="7.10"/>
<circle cx="1268.0" cy="532.7" r="7.10"/>
<circle cx="1268.0" cy="535.9" r="7.10"/>
<circle cx="1268.0" cy="539.0" r="7.10"/>
<circle cx="1268.0" cy="542.2" r="7.10"/>
<circle cx="1268.0" cy="545.3" r="7.10"/>
<circle cx="1268.0" cy="548.5" r="7.10"/>
<circle cx="1268.0" cy="551.7" r="7.10"/>
<circle cx="1268.0" cy="554.8" r="7.10"/>
<circle cx="1268.0" cy="558.0" r="7.10"/>
<circle cx="1268.0" cy="561.1" r="7.10"/>
<circle cx="1268.0" cy="564.3" r="7.10"/>
<circle cx="1268.0" cy="567.5" r="7.10"/>
<circle cx="1268.0" cy="570.6" r="7.10"/>
<circle cx="1268.0" cy="573.8" r="7.10"/>
<circle cx="1268.0" cy="576.9" r="7.10"/>
<circle cx="1268.0" cy="580.1" r="7.10"/>
<circle cx="1268.0" cy="583.2" r="7.10"/>
<circle cx="1268.0" cy="586.4" r="7.10"/>
<circle cx="1268.0" cy="599.4" r="7.10"/>
<circle cx="1268.0" cy="613.6" r="7.10"/>
<circle cx="1268.0" cy="620.4" r="7.10"/>
<circle cx="1268.0" cy="637.6" r="7.10"/>
<circle cx="1268.0" cy="817.4" r="7.10"/>
</g>
<g stroke="#161616" stroke-linecap="round" fill="none">
<line x1="227.8" y1="4.0" x2="227.8" y2="420.1" stroke-width="4.0"/>
<line x1="227.8" y1="460.5" x2="227.8" y2="876.3" stroke-width="4.0"/>
<line x1="227.8" y1="420.1" x2="495.5" y2="420.1" stroke-width="4.2"/>
<line x1="227.8" y1="876.3" x2="495.5" y2="876.3" stroke-width="4.2"/>
<line x1="523.1" y1="4.0" x2="523.1" y2="420.1" stroke-width="4.0"/>
<line x1="523.1" y1="460.5" x2="523.1" y2="876.3" stroke-width="4.0"/>
<line x1="523.1" y1="420.1" x2="791.3" y2="420.1" stroke-width="4.2"/>
<line x1="523.1" y1="876.3" x2="791.3" y2="876.3" stroke-width="4.2"/>
<line x1="818.3" y1="4.0" x2="818.3" y2="420.1" stroke-width="4.0"/>
<line x1="818.3" y1="460.5" x2="818.3" y2="876.3" stroke-width="4.0"/>
<line x1="818.3" y1="420.1" x2="1086.3" y2="420.1" stroke-width="4.2"/>
<line x1="818.3" y1="876.3" x2="1086.3" y2="876.3" stroke-width="4.2"/>
<line x1="1127.3" y1="4.0" x2="1127.3" y2="420.1" stroke-width="4.0"/>
<line x1="1127.3" y1="460.5" x2="1127.3" y2="876.3" stroke-width="4.0"/>
<line x1="1127.3" y1="420.1" x2="1395.5" y2="420.1" stroke-width="4.2"/>
<line x1="1127.3" y1="876.3" x2="1395.5" y2="876.3" stroke-width="4.2"/>
<line x1="214.5" y1="39.5" x2="227.8" y2="39.5" stroke-width="6.6"/>
<line x1="214.5" y1="134.3" x2="227.8" y2="134.3" stroke-width="6.6"/>
<line x1="214.5" y1="229.3" x2="227.8" y2="229.3" stroke-width="6.6"/>
<line x1="214.5" y1="324.4" x2="227.8" y2="324.4" stroke-width="6.6"/>
<line x1="214.5" y1="419.8" x2="227.8" y2="419.8" stroke-width="6.6"/>
<line x1="215.3" y1="497.7" x2="227.8" y2="497.7" stroke-width="6.6"/>
<line x1="215.3" y1="573.3" x2="227.8" y2="573.3" stroke-width="6.6"/>
<line x1="215.3" y1="648.9" x2="227.8" y2="648.9" stroke-width="6.6"/>
<line x1="215.3" y1="724.5" x2="227.8" y2="724.5" stroke-width="6.6"/>
<line x1="215.3" y1="800.1" x2="227.8" y2="800.1" stroke-width="6.6"/>
<line x1="215.3" y1="876.4" x2="227.8" y2="876.4" stroke-width="6.6"/>
<line x1="254.5" y1="876.3" x2="254.5" y2="888.8" stroke-width="6.1"/>
<line x1="362.0" y1="876.3" x2="362.0" y2="888.8" stroke-width="6.1"/>
<line x1="469.3" y1="876.3" x2="469.3" y2="888.8" stroke-width="6.1"/>
<line x1="545.3" y1="876.3" x2="545.3" y2="888.8" stroke-width="6.1"/>
<line x1="656.8" y1="876.3" x2="656.8" y2="888.8" stroke-width="6.1"/>
<line x1="769.0" y1="876.3" x2="769.0" y2="888.8" stroke-width="6.1"/>
<line x1="834.5" y1="876.3" x2="834.5" y2="888.8" stroke-width="6.1"/>
<line x1="913.0" y1="876.3" x2="913.0" y2="888.8" stroke-width="6.1"/>
<line x1="991.8" y1="876.3" x2="991.8" y2="888.8" stroke-width="6.1"/>
<line x1="1071.0" y1="876.3" x2="1071.0" y2="888.8" stroke-width="6.1"/>
<line x1="1171.8" y1="876.3" x2="1171.8" y2="888.8" stroke-width="6.1"/>
<line x1="1261.3" y1="876.3" x2="1261.3" y2="888.8" stroke-width="6.1"/>
<line x1="1351.0" y1="876.3" x2="1351.0" y2="888.8" stroke-width="6.1"/>
</g>
<g opacity="0.999">
<g font-size="41.5">
<text transform="translate(193.5,54.0) scale(1,1.036)" text-anchor="end">1600</text>
<text transform="translate(193.5,148.8) scale(1,1.036)" text-anchor="end">1200</text>
<text transform="translate(193.5,243.8) scale(1,1.036)" text-anchor="end">800</text>
<text transform="translate(193.5,338.9) scale(1,1.036)" text-anchor="end">400</text>
<text transform="translate(193.5,434.3) scale(1,1.036)" text-anchor="end">0</text>
<text transform="translate(195.0,512.2) scale(1,1.036)" text-anchor="end">-2</text>
<text transform="translate(195.0,587.8) scale(1,1.036)" text-anchor="end">-3</text>
<text transform="translate(195.0,663.4) scale(1,1.036)" text-anchor="end">-4</text>
<text transform="translate(195.0,739.0) scale(1,1.036)" text-anchor="end">-5</text>
<text transform="translate(195.0,814.6) scale(1,1.036)" text-anchor="end">-6</text>
<text transform="translate(195.0,890.9) scale(1,1.036)" text-anchor="end">-7</text>
<text transform="translate(254.5,945.8) scale(1,1.036)" text-anchor="middle">8</text>
<text transform="translate(362.0,945.8) scale(1,1.036)" text-anchor="middle">12</text>
<text transform="translate(469.3,945.8) scale(1,1.036)" text-anchor="middle">16</text>
<text transform="translate(545.3,945.8) scale(1,1.036)" text-anchor="middle">150</text>
<text transform="translate(656.8,945.8) scale(1,1.036)" text-anchor="middle">200</text>
<text transform="translate(769.0,945.8) scale(1,1.036)" text-anchor="middle">250</text>
<text transform="translate(834.5,945.8) scale(1,1.036)" text-anchor="middle">5.0</text>
<text transform="translate(913.0,945.8) scale(1,1.036)" text-anchor="middle">5.5</text>
<text transform="translate(991.8,945.8) scale(1,1.036)" text-anchor="middle">6.0</text>
<text transform="translate(1071.0,945.8) scale(1,1.036)" text-anchor="middle">6.5</text>
<text transform="translate(1171.8,945.8) scale(1,1.036)" text-anchor="middle">4.2</text>
<text transform="translate(1261.3,945.8) scale(1,1.036)" text-anchor="middle">4.4</text>
<text transform="translate(1351.0,945.8) scale(1,1.036)" text-anchor="middle">4.6</text>
</g>
<g font-size="37.3">
<text transform="translate(239.2,42.1) scale(1,1.036)">F</text>
<text transform="translate(533.5,37.2) scale(1,1.036)">L</text>
<text transform="translate(836.0,44.6) scale(1,1.036)">F</text>
<text transform="translate(1142.0,38.9) scale(1,1.036)">L</text>
<text transform="translate(240.2,500.0) scale(1,1.036)">F</text>
<text transform="translate(533.5,493.0) scale(1,1.036)">L</text>
<text transform="translate(833.0,497.3) scale(1,1.036)">F</text>
<text transform="translate(1145.0,491.8) scale(1,1.036)">L</text>
</g>
<g font-size="52.3">
<text transform="translate(743.2,1013.0) scale(1,1.020)" text-anchor="end"><tspan font-style="italic" letter-spacing="-0.2">C. shast</tspan><tspan>a density (/L)</tspan></text>
<text transform="translate(1088.0,1013.2) scale(1,1.020)" text-anchor="middle" font-size="53.2">Total dose (log scale)</text>
<text transform="translate(42.2,211.5) rotate(-90) scale(1,1.020)" text-anchor="middle"># of <tspan font-style="italic">C. shasta</tspan></text>
<text transform="translate(100.6,205.0) rotate(-90) scale(1,1.020)" text-anchor="middle">transmitted</text>
<text transform="translate(45.9,683.5) rotate(-90) scale(1,1.020)" text-anchor="middle">Transmission rate</text>
<text transform="translate(103.2,676.5) rotate(-90) scale(1,1.020)" text-anchor="middle">(log scale)</text>
</g>
</g>
</svg>
</body></html>
